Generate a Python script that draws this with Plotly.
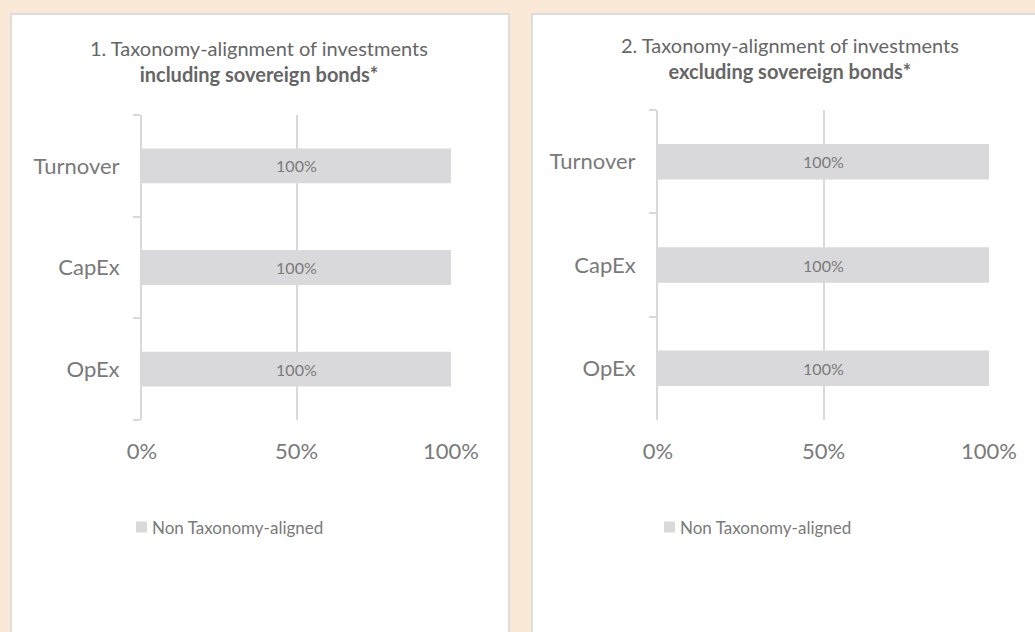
import plotly.graph_objects as go

categories = ["Turnover", "CapEx", "OpEx"]
values_incl = [100, 100, 100]
values_excl = [100, 100, 100]
text_incl = ["100%", "100%", "100%"]
text_excl = ["100%", "100%", "100%"]
series_name = "Non Taxonomy-aligned"
x_tickvals = [0, 50, 100]
x_ticktext = ["0%", "50%", "100%"]
title_1 = "1. Taxonomy-alignment of investments<br><b>including sovereign bonds*</b>"
title_2 = "2. Taxonomy-alignment of investments<br><b>excluding sovereign bonds*</b>"

W, H = 1035, 632
PEACH = "#FBE9D8"
BAR = "#D9D9DB"
GRID = "#D9D9D9"
TXT = "#7a7a7a"
TTL = "#666666"
FONT = "Lato, 'Open Sans', sans-serif"


def px(x):
    return x / W


def py(y):
    return 1 - y / H


fig = go.Figure()

for vals, txt, xa, ya in [(values_incl, text_incl, "x", "y"),
                          (values_excl, text_excl, "x2", "y2")]:
    fig.add_trace(go.Bar(
        x=vals, y=categories, orientation="h", name=series_name,
        marker=dict(color=BAR, line=dict(width=0)), width=0.343,
        text=txt, textposition="inside", insidetextanchor="middle",
        textfont=dict(color=TXT, size=16, family=FONT),
        xaxis=xa, yaxis=ya, showlegend=False, hoverinfo="skip",
    ))

xaxis_common = dict(
    range=[0, 100], tickvals=x_tickvals, ticktext=x_ticktext,
    showgrid=True, gridcolor=GRID, gridwidth=2,
    zeroline=False, showline=False, automargin=False,
    ticks="outside", ticklen=12, tickcolor="rgba(0,0,0,0)",
    tickfont=dict(size=22, color=TXT, family=FONT),
    fixedrange=True,
)
yaxis_common = dict(
    categoryorder="array", categoryarray=categories[::-1],
    showline=True, linecolor=GRID, linewidth=2,
    ticks="outside", ticklen=7, tickcolor=GRID, tickwidth=2,
    tickson="boundaries", showgrid=False, automargin=False,
    ticklabelstandoff=16,
    tickfont=dict(size=22, color=TXT, family=FONT),
    fixedrange=True,
)

fig.update_layout(
    width=W, height=H, autosize=False,
    margin=dict(l=0, r=0, t=0, b=0, pad=0),
    paper_bgcolor=PEACH, plot_bgcolor="rgba(0,0,0,0)",
    xaxis=dict(domain=[px(142), px(451)], anchor="y", **xaxis_common),
    yaxis=dict(domain=[py(420), py(115)], anchor="x", **yaxis_common),
    xaxis2=dict(domain=[px(658), px(989)], anchor="y2", **xaxis_common),
    yaxis2=dict(domain=[py(420), py(110)], anchor="x2", **yaxis_common),
    showlegend=False,
)

# panel backgrounds
fig.add_shape(type="rect", xref="paper", yref="paper", layer="below",
              x0=px(11), x1=px(509), y0=py(645), y1=py(14),
              fillcolor="white", line=dict(color="#DCDCDC", width=2))
fig.add_shape(type="rect", xref="paper", yref="paper", layer="below",
              x0=px(532), x1=px(1050), y0=py(645), y1=py(14),
              fillcolor="white", line=dict(color="#DCDCDC", width=2))

# titles
fig.add_annotation(xref="paper", yref="paper", x=px(259), y=py(61.5),
                   text=title_1, showarrow=False, align="center",
                   xanchor="center", yanchor="middle",
                   font=dict(size=20, color=TTL, family=FONT))
fig.add_annotation(xref="paper", yref="paper", x=px(790), y=py(58),
                   text=title_2, showarrow=False, align="center",
                   xanchor="center", yanchor="middle",
                   font=dict(size=20, color=TTL, family=FONT))

# legends
for lx, ly in [(136, 527), (664, 527)]:
    fig.add_shape(type="rect", xref="paper", yref="paper",
                  x0=px(lx), x1=px(lx + 11), y0=py(ly + 5.5), y1=py(ly - 5.5),
                  fillcolor=BAR, line=dict(width=0))
    fig.add_annotation(xref="paper", yref="paper", x=px(lx + 14), y=py(ly),
                       text=series_name, showarrow=False,
                       xanchor="left", yanchor="middle",
                       font=dict(size=17, color=TXT, family=FONT))

fig.write_html(
    "out.html",
    config={"displayModeBar": False},
    post_script="document.body.style.margin='0';document.body.style.overflow='hidden';",
)
